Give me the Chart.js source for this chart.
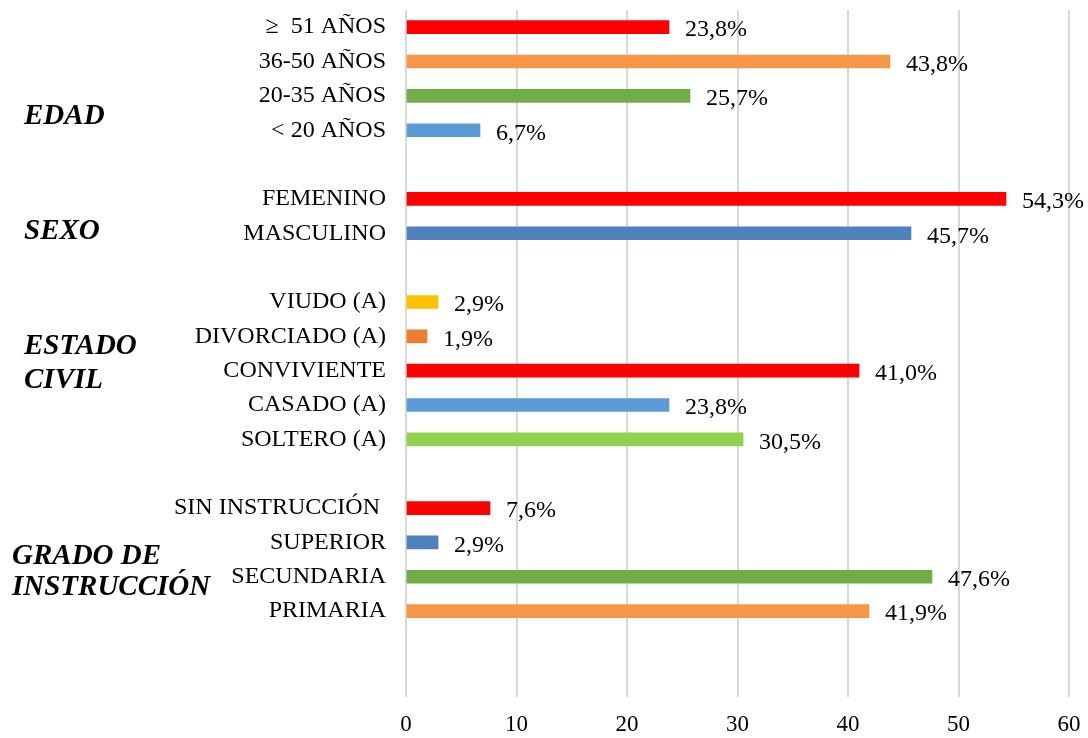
<!DOCTYPE html>
<html>
<head>
<meta charset="utf-8">
<script src="https://cdn.jsdelivr.net/npm/chart.js@4/dist/chart.umd.min.js"></script>
<style>
  html, body { margin: 0; padding: 0; background: #fff; }
  #wrap { width: 1088px; height: 738px; position: relative; }
</style>
</head>
<body>
<div id="wrap"><canvas id="chart"></canvas></div>
<script>
// Datos por grupo (de arriba hacia abajo)
const edadLabels = ['\u2265  51 AÑOS', '36-50 AÑOS', '20-35 AÑOS', '< 20 AÑOS'];
const edadValues = [23.8, 43.8, 25.7, 6.7];

const sexoLabels = ['FEMENINO', 'MASCULINO'];
const sexoValues = [54.3, 45.7];

const civilLabels = ['VIUDO (A)', 'DIVORCIADO (A)', 'CONVIVIENTE', 'CASADO (A)', 'SOLTERO (A)'];
const civilValues = [2.9, 1.9, 41.0, 23.8, 30.5];

const gradoLabels = ['SIN INSTRUCCIÓN ', 'SUPERIOR', 'SECUNDARIA', 'PRIMARIA'];
const gradoValues = [7.6, 2.9, 47.6, 41.9];

const xTicks = [0, 10, 20, 30, 40, 50, 60];

// Colores por grupo
const edadColors = ['#ff0000', '#f79646', '#70ad47', '#5b9bd5'];
const sexoColors = ['#ff0000', '#4f81bd'];
const civilColors = ['#ffc000', '#ed7d31', '#ff0000', '#5b9bd5', '#92d050'];
const gradoColors = ['#ff0000', '#4f81bd', '#70ad47', '#f79646'];

// Títulos de grupo (texto) y su posición en índices de categoría
const groupTitles = [
  { lines: ['EDAD'], at: [2.6], x: 24 },
  { lines: ['SEXO'], at: [5.95], x: 24 },
  { lines: ['ESTADO', 'CIVIL'], at: [9.3, 10.3], x: 24 },
  { lines: ['GRADO DE', 'INSTRUCCIÓN'], at: [15.4, 16.3], x: 12 }
];

const FONT = "'Liberation Serif', 'Times New Roman', serif";

// Construir filas con huecos entre grupos
const groups = [
  [edadLabels, edadValues, edadColors],
  [sexoLabels, sexoValues, sexoColors],
  [civilLabels, civilValues, civilColors],
  [gradoLabels, gradoValues, gradoColors]
];
const labels = [], values = [], colors = [];
groups.forEach(([l, v, c], gi) => {
  if (gi > 0) { labels.push(''); values.push(null); colors.push('transparent'); }
  l.forEach((t, i) => { labels.push(t); values.push(v[i]); colors.push(c[i]); });
});
// dos filas vacías al final
labels.push('', ''); values.push(null, null); colors.push('transparent', 'transparent');

const fmt = v => v.toFixed(1).replace('.', ',') + '%';

const valueLabels = {
  id: 'valueLabels',
  afterDatasetsDraw(chart) {
    const ctx = chart.ctx;
    const meta = chart.getDatasetMeta(0);
    ctx.save();
    ctx.font = '24px ' + FONT;
    ctx.fillStyle = '#000';
    ctx.textAlign = 'left';
    ctx.textBaseline = 'middle';
    meta.data.forEach((bar, i) => {
      const v = values[i];
      if (v == null) return;
      ctx.fillText(fmt(v), bar.x + 16, bar.y + 3);
    });
    ctx.restore();
  }
};

const groupLabels = {
  id: 'groupLabels',
  afterDraw(chart) {
    const ctx = chart.ctx;
    const y = chart.scales.y;
    ctx.save();
    ctx.font = 'italic bold 29px ' + FONT;
    ctx.fillStyle = '#000';
    ctx.textAlign = 'left';
    ctx.textBaseline = 'middle';
    groupTitles.forEach(g => {
      g.lines.forEach((t, i) => {
        ctx.fillText(t, g.x, y.getPixelForDecimal((g.at[i] + 0.5) / labels.length));
      });
    });
    ctx.restore();
  }
};

const noPad = s => { s.paddingTop = 0; s.paddingBottom = 0; s.paddingLeft = 0; s.paddingRight = 0; };

new Chart(document.getElementById('chart'), {
  type: 'bar',
  data: {
    labels: labels,
    datasets: [{
      data: values,
      backgroundColor: colors,
      barThickness: 13,
      borderWidth: 0
    }]
  },
  options: {
    indexAxis: 'y',
    responsive: true,
    maintainAspectRatio: false,
    animation: false,
    layout: { padding: { top: 10, right: 19, left: 0, bottom: 0 } },
    plugins: {
      legend: { display: false },
      tooltip: { enabled: false }
    },
    scales: {
      x: {
        min: 0,
        max: 60,
        afterBuildTicks: s => { s.ticks = xTicks.map(v => ({ value: v })); },
        afterFit: s => { s.height = 41; noPad(s); },
        border: { display: false },
        grid: { color: '#d9d9d9', lineWidth: 2, drawTicks: false },
        ticks: {
          color: '#000',
          padding: 14,
          font: { family: FONT, size: 23 }
        }
      },
      y: {
        afterFit: s => { s.width = 406; noPad(s); },
        border: { display: false },
        grid: { display: false },
        ticks: {
          color: '#000',
          padding: 12,
          autoSkip: false,
          font: { family: FONT, size: 24 }
        }
      }
    }
  },
  plugins: [valueLabels, groupLabels]
});
</script>
</body>
</html>
